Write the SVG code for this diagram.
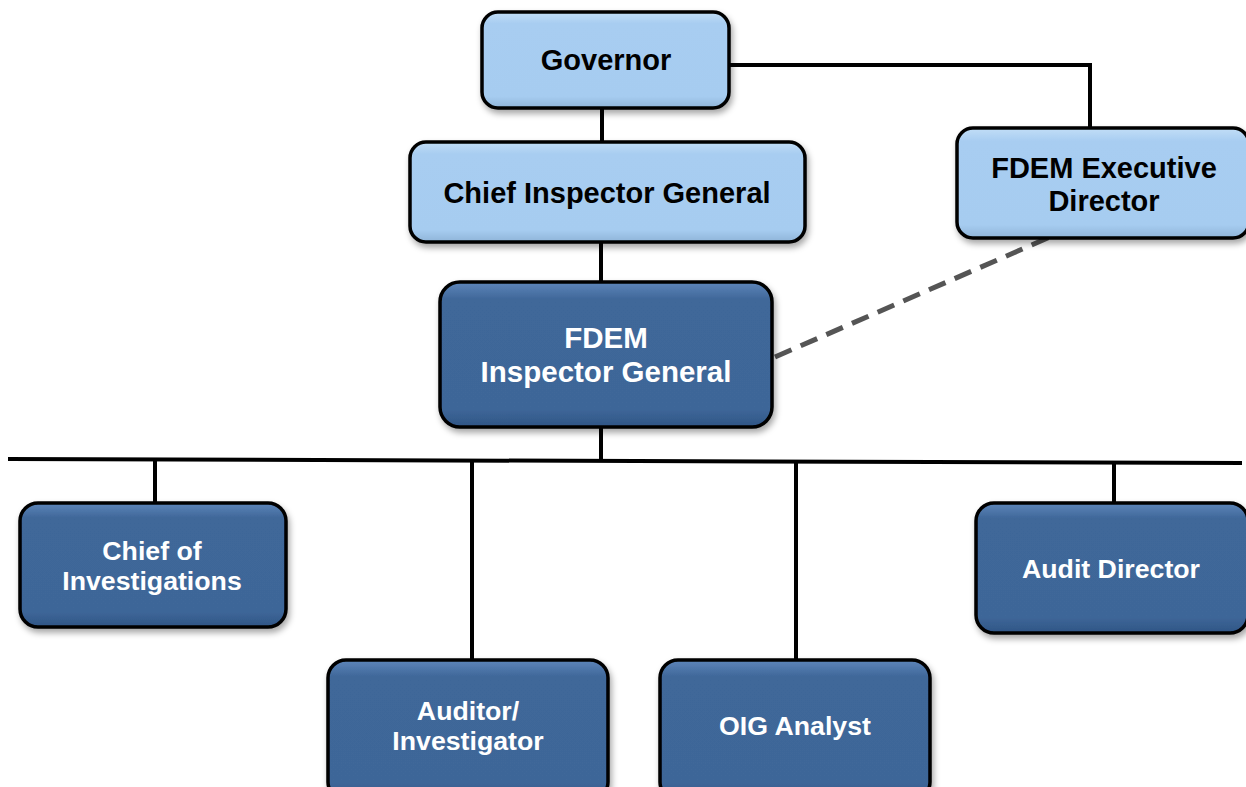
<svg xmlns="http://www.w3.org/2000/svg" width="1246" height="787" viewBox="0 0 1246 787">
<style>
.box{stroke:#000;stroke-width:3.5;filter:url(#sh)}
.light{fill:url(#lg)}
.dark{fill:url(#dg)}
.t{font-family:"Liberation Sans",Arial,sans-serif;font-weight:bold;text-anchor:middle}
.tl{fill:#000;font-size:29px}
.td{fill:#fff;font-size:26.7px}
.c{stroke:#000;stroke-width:4;fill:none}
</style>
<defs>
<filter id="sh" x="-10%" y="-10%" width="125%" height="130%">
<feDropShadow dx="2" dy="4" stdDeviation="3" flood-color="#000" flood-opacity="0.35"/>
</filter>
<linearGradient id="lg" x1="0" y1="0" x2="0" y2="1">
<stop offset="0" stop-color="#c2def7"/>
<stop offset="0.12" stop-color="#a8cdf1"/>
<stop offset="0.88" stop-color="#a6ccf0"/>
<stop offset="1" stop-color="#8fb4d8"/>
</linearGradient>
<linearGradient id="dg" x1="0" y1="0" x2="0" y2="1">
<stop offset="0" stop-color="#5e86ba"/>
<stop offset="0.12" stop-color="#3f6799"/>
<stop offset="0.88" stop-color="#3e6698"/>
<stop offset="1" stop-color="#2f5585"/>
</linearGradient>
</defs>
<g id="connectors">
<path class="c" d="M602 108V142"/>
<path class="c" d="M729 65H1090V128"/>
<path class="c" d="M601 242V282"/>
<path class="c" d="M601 427V460"/>
<path class="c" d="M8 459L1242 463"/>
<path class="c" d="M155 460V503"/>
<path class="c" d="M472 461V660"/>
<path class="c" d="M796 462V660"/>
<path class="c" d="M1114 462V503"/>
<path d="M775 357L1050 237" stroke="#555" stroke-width="5" stroke-dasharray="18 10" fill="none"/>
</g>
<g id="governor">
<rect class="box light" x="482" y="12" width="247" height="96" rx="16"/>
<text class="t tl" x="606" y="70">Governor</text>
</g>
<g id="chief-ig">
<rect class="box light" x="410" y="142" width="395" height="100" rx="16"/>
<text class="t tl" x="607" y="203">Chief Inspector General</text>
</g>
<g id="exec-director">
<rect class="box light" x="957" y="128" width="292" height="110" rx="16"/>
<text class="t tl" x="1104" y="178">FDEM Executive</text>
<text class="t tl" x="1104" y="211">Director</text>
</g>
<g id="fdem-ig">
<rect class="box dark" x="440" y="282" width="332" height="145" rx="20"/>
<text class="t td" x="606" y="348" style="font-size:29.5px">FDEM</text>
<text class="t td" x="606" y="382" style="font-size:29.5px">Inspector General</text>
</g>
<g id="chief-inv">
<rect class="box dark" x="20" y="503" width="266" height="124" rx="18"/>
<text class="t td" x="152" y="560">Chief of</text>
<text class="t td" x="152" y="590">Investigations</text>
</g>
<g id="auditor">
<rect class="box dark" x="328" y="660" width="280" height="140" rx="18"/>
<text class="t td" x="468" y="720">Auditor/</text>
<text class="t td" x="468" y="750">Investigator</text>
</g>
<g id="oig-analyst">
<rect class="box dark" x="660" y="660" width="270" height="140" rx="18"/>
<text class="t td" x="795" y="735">OIG Analyst</text>
</g>
<g id="audit-director">
<rect class="box dark" x="976" y="503" width="272" height="130" rx="18"/>
<text class="t td" x="1111" y="578">Audit Director</text>
</g>
</svg>
